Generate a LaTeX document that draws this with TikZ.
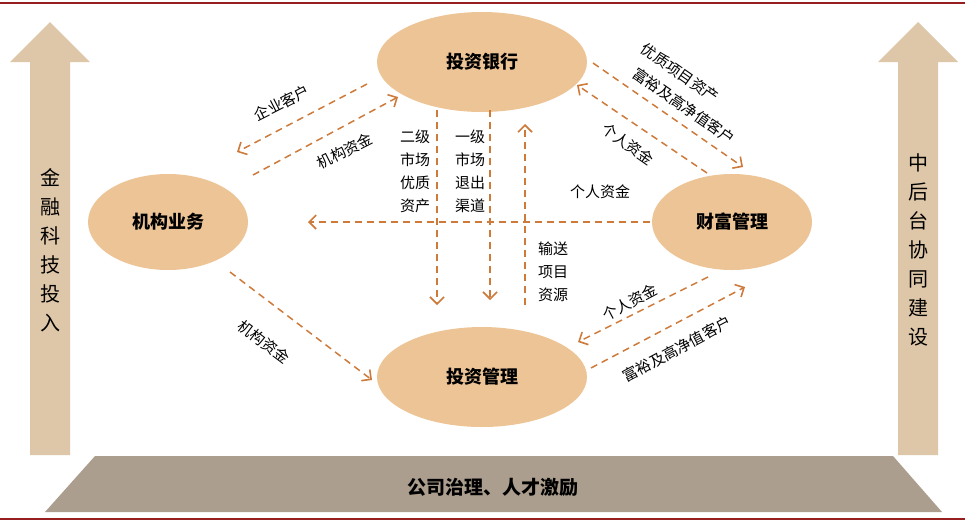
\documentclass[tikz,border=0pt]{standalone}
\usepackage{fontspec}
\setmainfont{Noto Sans CJK SC}
\usetikzlibrary{arrows.meta}
\definecolor{ellfill}{RGB}{237,196,150}
\definecolor{flow}{RGB}{205,122,58}
\definecolor{pillar}{RGB}{222,198,168}
\definecolor{basefill}{RGB}{172,158,142}
\definecolor{rule}{RGB}{150,30,30}
\tikzset{
    unit/.style = {
        ellipse, fill = ellfill, font=\bfseries\fontsize{18}{20}\selectfont,
        },
    flowline/.style = {
        draw=flow, line width=1.5pt, dash pattern=on 7pt off 5pt,
        -{Straight Barb[length=7pt,width=14pt,line width=1.6pt]},
        },
    tag/.style = {
        font=\fontsize{15}{17}\selectfont, inner sep=0pt,
        },
    stack/.style = {
        tag, align=center, font=\fontsize{15}{23}\selectfont,
        },
}
\usetikzlibrary{shapes.geometric}
\begin{document}
\begin{tikzpicture}[x=1pt,y=-1pt]
    \useasboundingbox (0,0) rectangle (965,523);
    \draw[rule, line width=1.2pt] (0,3) -- (965,3);
    \draw[rule, line width=1.2pt] (0,519) -- (965,519);

    % side pillars
    \fill[pillar] (30,455) -- (30,62) -- (10,62) -- (50,22) -- (90,62) -- (70,62) -- (70,455) -- cycle;
    \fill[pillar] (898,455) -- (898,62) -- (878,62) -- (918,22) -- (958,62) -- (938,62) -- (938,455) -- cycle;
    \node[stack, font=\fontsize{20}{29}\selectfont] (fintech) at (50,250) {金\\融\\科\\技\\投\\入};
    \node[stack, font=\fontsize{20}{29}\selectfont] (backoff) at (918,250) {中\\后\\台\\协\\同\\建\\设};

    % base
    \fill[basefill] (95,456) -- (893,456) -- (942,512) -- (45,512) -- cycle;
    \node[font=\bfseries\fontsize{19}{20}\selectfont] (gov) at (493,487) {公司治理、人才激励};

    % units
    \node[unit, minimum width=210pt, minimum height=100pt] (IB) at (482,62) {投资银行};
    \node[unit, minimum width=160pt, minimum height=96pt] (INS) at (168,222) {机构业务};
    \node[unit, minimum width=160pt, minimum height=96pt] (WM) at (732,222) {财富管理};
    \node[unit, minimum width=210pt, minimum height=100pt] (AM) at (482,377) {投资管理};

    % ends of the flows
    \coordinate (a1) at (367,84);  \coordinate (b1) at (237,152);
    \coordinate (a2) at (253,175); \coordinate (b2) at (398,97);
    \coordinate (a3) at (437,110); \coordinate (b3) at (437,305);
    \coordinate (a4) at (490,110); \coordinate (b4) at (490,300);
    \coordinate (a5) at (525,305); \coordinate (b5) at (525,124);
    \coordinate (a6) at (650,222); \coordinate (b6) at (308,222);
    \coordinate (a7) at (593,63);  \coordinate (b7) at (743,167);
    \coordinate (a8) at (707,173); \coordinate (b8) at (577,85);
    \coordinate (a9) at (708,277); \coordinate (b9) at (578,342);
    \coordinate (a10) at (591,368); \coordinate (b10) at (745,287);
    \coordinate (a11) at (230,272); \coordinate (b11) at (372,380);

    \draw[flowline] (a1) -- (b1);
    \draw[flowline] (a2) -- (b2);
    \draw[flowline] (a3) -- (b3);
    \draw[flowline] (a4) -- (b4);
    \draw[flowline] (a5) -- (b5);
    \draw[flowline] (a6) -- (b6);
    \draw[flowline] (a7) -- (b7);
    \draw[flowline] (a8) -- (b8);
    \draw[flowline] (a9) -- (b9);
    \draw[flowline] (a10) -- (b10);
    \draw[flowline] (a11) -- (b11);

    % labels
    \node[tag, rotate=27] (l1) at (282,103) {企业客户};
    \node[tag, rotate=27] (l2) at (345,151) {机构资金};
    \node[stack] (l3) at (415,171) {二级\\市场\\优质\\资产};
    \node[stack] (l4) at (470,171) {一级\\市场\\退出\\渠道};
    \node[stack] (l5) at (553,272) {输送\\项目\\资源};
    \node[tag] (l6) at (600,192) {个人资金};
    \node[tag, rotate=-35] (l7) at (680,73) {优质项目资产};
    \node[tag, rotate=-35] (l8) at (684,106) {富裕及高净值客户};
    \node[tag, rotate=-35] (l9) at (628,144) {个人资金};
    \node[tag, rotate=28] (l10) at (630,302) {个人资金};
    \node[tag, rotate=28] (l11) at (677,349) {富裕及高净值客户};
    \node[tag, rotate=-37] (l12) at (264,342) {机构资金};
\end{tikzpicture}
\end{document}
